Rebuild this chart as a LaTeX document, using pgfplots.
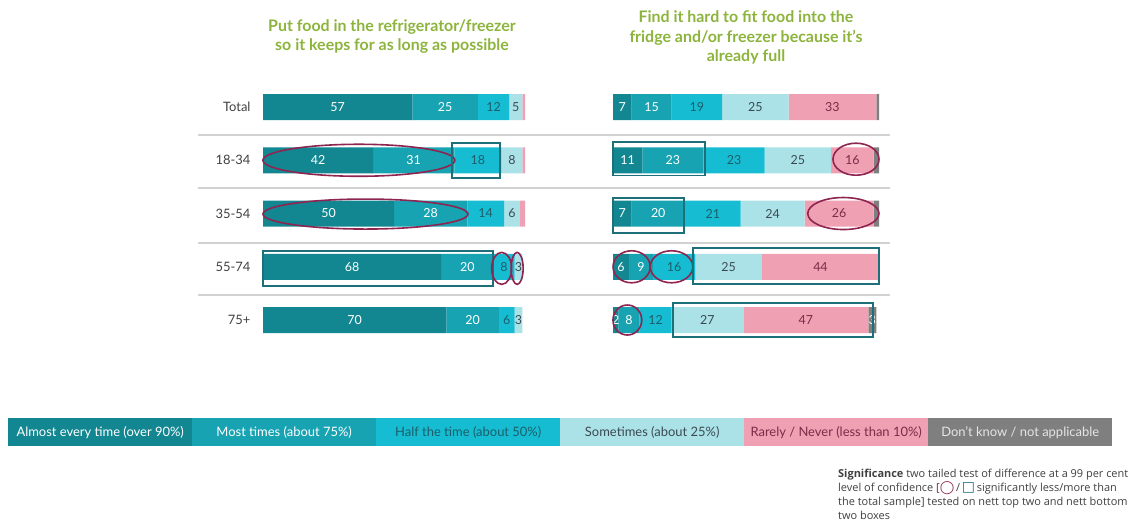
\documentclass[border=0pt]{standalone}
\usepackage{pgfplots}
\pgfplotsset{compat=1.18}
\usepackage{pgfplotstable}
\usepackage{fontspec}
\setmainfont{Lato}
\newfontfamily\dejavu{DejaVu Sans}
\newfontfamily\notefont{Open Sans}
\definecolor{cA}{HTML}{128791}
\definecolor{cB}{HTML}{17A3B2}
\definecolor{cC}{HTML}{16BDD2}
\definecolor{cD}{HTML}{ABE2E8}
\definecolor{cE}{HTML}{EFA0B3}
\definecolor{cF}{HTML}{7F7F7F}
\definecolor{circ}{HTML}{8E2450}
\definecolor{boxc}{HTML}{1D6F7A}
\definecolor{ttl}{HTML}{8CB43C}
\definecolor{txt}{HTML}{404040}
\definecolor{tC}{HTML}{1B5E6A}
\definecolor{tD}{HTML}{3A4A50}
\definecolor{tE}{HTML}{7E2A48}
\definecolor{sep}{HTML}{D2D2D2}

\pgfplotstableread{
row a b c d e f
0 57 25 12 5 1 0
1 42 31 18 8 1 0
2 50 28 14 6 2 0
3 68 20 8 3 0 0
4 70 20 6 3 0 0
}\lefttab
\pgfplotstableread{
row a b c d e f
0 7 15 19 25 33 1
1 11 23 23 25 16 2
2 7 20 21 24 26 2
3 6 9 16 25 44 0
4 2 8 12 27 47 3
}\righttab

\tikzset{
 ell/.style={draw=circ, line width=1.6bp},
 bx/.style={draw=boxc, line width=1.5bp},
}
\pgfplotsset{
 panel/.style={
  xbar stacked, scale only axis, width=#1, height=266.25bp,
  xmin=0, xmax=100, ymin=-0.5, ymax=4.5, y dir=reverse,
  bar width=26bp, clip=false, anchor=north west,
  axis line style={draw=none}, major tick length=0pt,
  xtick=\empty, ytick=\empty,
  /pgf/number format/assume math mode=true,
  every node near coord/.append style={anchor=center, inner sep=0pt,
     font=\fontsize{12.5}{12.5}\selectfont},
 },
 seg/.style n args={4}{fill=#1, draw=none,
   visualization depends on={\thisrow{#3}\as\val},
   nodes near coords={\ifdim\val pt<#4pt\relax\else\pgfmathprintnumber{\val}\fi},
   every node near coord/.append style={text=#2}},
}

\begin{document}
\begin{tikzpicture}
\path[use as bounding box] (0,0) rectangle (1146bp,-532bp);
\foreach \yy in {135,188,243,295}
  \draw[line width=1.5bp, color=sep] (198bp,-\yy bp) -- (890bp,-\yy bp);

% left panel
\begin{axis}[panel=262bp, at={(263bp,-80.4bp)},
  ytick={0,1,2,3,4}, yticklabels={Total,18-34,35-54,55-74,75+},
  yticklabel style={font=\fontsize{13}{13}\selectfont, text=txt, xshift=-9bp}]
\addplot[seg={cA}{white}{a}{1.5}] table[x=a,y=row]{\lefttab};
\addplot[seg={cB}{white}{b}{1.5}] table[x=b,y=row]{\lefttab};
\addplot[seg={cC}{tC}{c}{1.5}] table[x=c,y=row]{\lefttab};
\addplot[seg={cD}{tD}{d}{1.5}] table[x=d,y=row]{\lefttab};
\addplot[seg={cE}{tE}{e}{2.5}] table[x=e,y=row]{\lefttab};
\addplot[seg={cF}{white}{f}{2.5}] table[x=f,y=row]{\lefttab};
\coordinate (LE1) at (axis cs:36.6,1);
\coordinate (LB1a) at (axis cs:72.1,0.68); \coordinate (LB1b) at (axis cs:90.5,1.33);
\coordinate (LE2) at (axis cs:39.1,2.01);
\coordinate (LB3a) at (axis cs:0,2.70); \coordinate (LB3b) at (axis cs:87.7,3.36);
\coordinate (LE3a) at (axis cs:91.1,3.03);
\coordinate (LE3b) at (axis cs:97.0,3.03);
\end{axis}
\draw[ell] (LE1) ellipse [x radius=96bp, y radius=16bp];
\draw[bx] (LB1a) rectangle (LB1b);
\draw[ell] (LE2) ellipse [x radius=102.5bp, y radius=15bp];
\draw[bx] (LB3a) rectangle (LB3b);
\draw[ell] (LE3a) ellipse [x radius=10bp, y radius=16bp];
\draw[ell] (LE3b) ellipse [x radius=6bp, y radius=16bp];

% right panel
\begin{axis}[panel=266bp, at={(613bp,-80.4bp)}]
\addplot[seg={cA}{white}{a}{1.5}] table[x=a,y=row]{\righttab};
\addplot[seg={cB}{white}{b}{1.5}] table[x=b,y=row]{\righttab};
\addplot[seg={cC}{tC}{c}{1.5}] table[x=c,y=row]{\righttab};
\addplot[seg={cD}{tD}{d}{1.5}] table[x=d,y=row]{\righttab};
\addplot[seg={cE}{tE}{e}{2.5}] table[x=e,y=row]{\righttab};
\addplot[seg={cF}{white}{f}{2.5}] table[x=f,y=row]{\righttab};
\coordinate (RB1a) at (axis cs:0,0.66); \coordinate (RB1b) at (axis cs:34.6,1.29);
\coordinate (RE1) at (axis cs:91.35,0.98);
\coordinate (RB2a) at (axis cs:0,1.71); \coordinate (RB2b) at (axis cs:26.7,2.37);
\coordinate (RE2) at (axis cs:86.6,2.0);
\coordinate (RE3a) at (axis cs:7,3.0);
\coordinate (RE3b) at (axis cs:22,3.0);
\coordinate (RB3a) at (axis cs:30,2.65); \coordinate (RB3b) at (axis cs:100,3.32);
\coordinate (RE4) at (axis cs:5.4,4.0);
\coordinate (RB4a) at (axis cs:22.6,3.68); \coordinate (RB4b) at (axis cs:97.7,4.32);
\end{axis}
\draw[bx] (RB1a) rectangle (RB1b);
\draw[ell] (RE1) ellipse [x radius=23bp, y radius=16bp];
\draw[bx] (RB2a) rectangle (RB2b);
\draw[ell] (RE2) ellipse [x radius=35.6bp, y radius=16bp];
\draw[ell] (RE3a) ellipse [x radius=18.6bp, y radius=16bp];
\draw[ell] (RE3b) ellipse [x radius=21.3bp, y radius=16bp];
\draw[bx] (RB3a) rectangle (RB3b);
\draw[ell] (RE4) ellipse [x radius=14.4bp, y radius=15bp];
\draw[bx] (RB4a) rectangle (RB4b);

% titles
\node[align=center, text=ttl, font=\fontsize{16}{20}\bfseries\selectfont, anchor=north, inner sep=0pt]
  at (392bp,-19bp) {Put food in the refrigerator/freezer\\so it keeps for as long as possible};
\node[align=center, text=ttl, font=\fontsize{16}{20}\bfseries\selectfont, anchor=north, inner sep=0pt]
  at (746bp,-10bp) {Find it hard to fit food into the\\fridge and/or freezer because it’s\\already full};

% legend
\tikzset{lg/.style={minimum width=184bp, minimum height=28bp, anchor=north west, inner sep=0pt, draw=none,
  font=\fontsize{13}{13}\selectfont}}
\node[lg, fill=cA, text=white] at (8bp,-418bp) {Almost every time (over 90\%)};
\node[lg, fill=cB, text=white] at (192bp,-418bp) {Most times (about 75\%)};
\node[lg, fill=cC, text=tC] at (376bp,-418bp) {Half the time (about 50\%)};
\node[lg, fill=cD, text=tD] at (560bp,-418bp) {Sometimes (about 25\%)};
\node[lg, fill=cE, text=tE] at (744bp,-418bp) {Rarely / Never (less than 10\%)};
\node[lg, fill=cF, text=white!90!black] at (928bp,-418bp) {Don't know / not applicable};

% significance note
\node[anchor=north west, align=left, inner sep=0pt, text=txt, font=\notefont\fontsize{11}{14}\selectfont]
  at (838bp,-469bp) {\textbf{Significance} two tailed test of difference at a 99 per cent\\
  level of confidence [{\dejavu\fontsize{13}{14}\selectfont\bfseries\color{circ}◯}\,/\,{\dejavu\fontsize{14}{14}\selectfont\bfseries\color{boxc}□}\,significantly less/more than\\
  the total sample] tested on nett top two and nett bottom\\
  two boxes};
\end{tikzpicture}
\end{document}
